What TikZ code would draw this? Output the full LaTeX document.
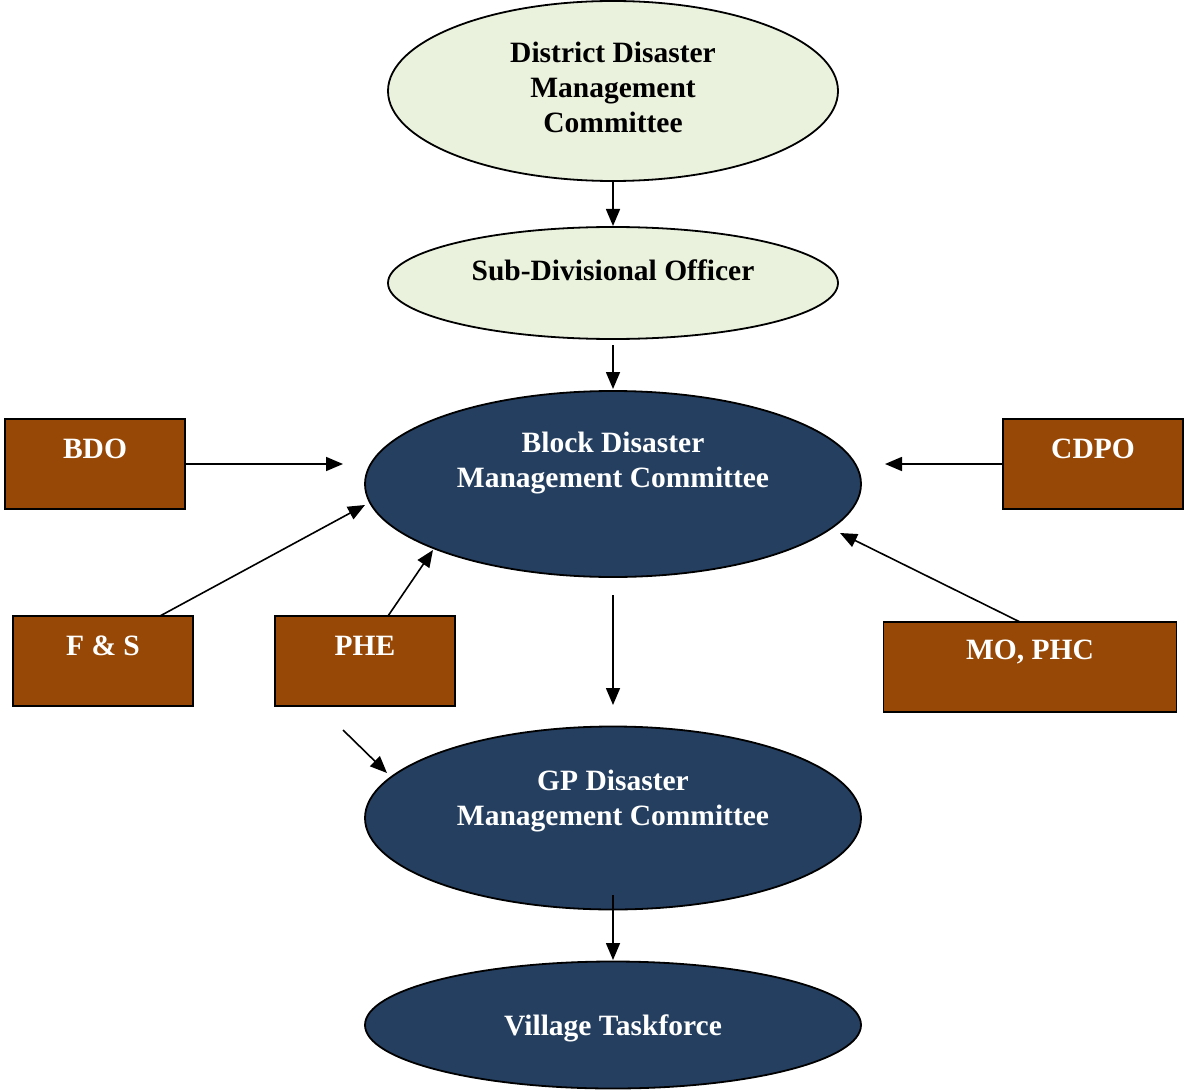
\documentclass[tikz,border=0pt]{standalone}
\usepackage{fontspec}
\setmainfont{Liberation Serif}
\usetikzlibrary{shapes.geometric,arrows.meta}
\definecolor{lightgreen}{HTML}{EAF1DD}
\definecolor{navy}{HTML}{243F60}
\definecolor{brownbox}{HTML}{974806}
\begin{document}
\begin{tikzpicture}[x=1pt,y=-1pt,
  ell/.style={ellipse,draw=black,line width=1.8pt,inner sep=0pt},
  lightell/.style={ell,fill=lightgreen},
  darkell/.style={ell,fill=navy},
  bx/.style={rectangle,draw=black,line width=1.8pt,fill=brownbox,inner sep=0pt,minimum width=180pt,minimum height=90pt},
  txt/.style={font=\fontsize{29.5}{35}\selectfont\bfseries,align=center,inner sep=0pt},
  wtxt/.style={txt,text=white},
  arr/.style={line width=1.6pt,-{Triangle[length=17pt,width=14pt]}}]
\useasboundingbox (0,0) rectangle (1185,1091);
% ellipses
\node[lightell,minimum width=450pt,minimum height=180pt] (ddmc) at (613,91) {};
\node[lightell,minimum width=450pt,minimum height=112pt] (sdo) at (613,283) {};
\node[darkell,minimum width=496pt,minimum height=186pt] (bdmc) at (613,484) {};
\node[darkell,minimum width=496pt,minimum height=183pt] (gp) at (613,818) {};
\node[darkell,minimum width=496pt,minimum height=127pt] (vt) at (613,1025) {};
% boxes
\node[bx] (bdo) at (95,464) {};
\node[bx] (cdpo) at (1093,464) {};
\node[bx] (fs) at (103,661) {};
\node[bx] (phe) at (365,661) {};
\node[bx,minimum width=293pt] (mo) at (1030,667) {};
% texts
\node[txt] (tddmc) at (613,87) {District Disaster\\Management\\Committee};
\node[txt] (tsdo) at (613,270) {Sub-Divisional Officer};
\node[wtxt] (tbdmc) at (613,463) {Block Disaster\\Management Committee};
\node[wtxt] (tgp) at (613,801) {GP Disaster\\Management Committee};
\node[wtxt] (tvt) at (613,1028) {Village Taskforce};
\node[wtxt] (tbdo) at (95,449) {BDO};
\node[wtxt] (tcdpo) at (1093,449) {CDPO};
\node[wtxt] (tfs) at (103,646) {F \& S};
\node[wtxt] (tphe) at (365,646) {PHE};
\node[wtxt] (tmo) at (1030,652) {MO, PHC};
% coordinates
\coordinate (c1) at (613,226);
\coordinate (c2s) at (613,345);
\coordinate (c2e) at (613,389);
\coordinate (c3) at (343,464);
\coordinate (c4) at (885,464);
\coordinate (c5) at (365,505);
\coordinate (c5s) at (160,616);
\coordinate (c6s) at (388,616);
\coordinate (c6) at (433,550);
\coordinate (c7s) at (1020,622);
\coordinate (c7) at (840,533);
\coordinate (c8s) at (613,595);
\coordinate (c8) at (613,705);
\coordinate (c9s) at (343,730);
\coordinate (c9) at (387,773);
\coordinate (c10s) at (613,895);
\coordinate (c10) at (613,960);
% arrows
\draw[arr] (ddmc.south) -- (c1);
\draw[arr] (c2s) -- (c2e);
\draw[arr] (bdo.east) -- (c3);
\draw[arr] (cdpo.west) -- (c4);
\draw[arr] (c5s) -- (c5);
\draw[arr] (c6s) -- (c6);
\draw[arr] (c7s) -- (c7);
\draw[arr] (c8s) -- (c8);
\draw[arr] (c9s) -- (c9);
\draw[arr] (c10s) -- (c10);
\end{tikzpicture}
\end{document}
